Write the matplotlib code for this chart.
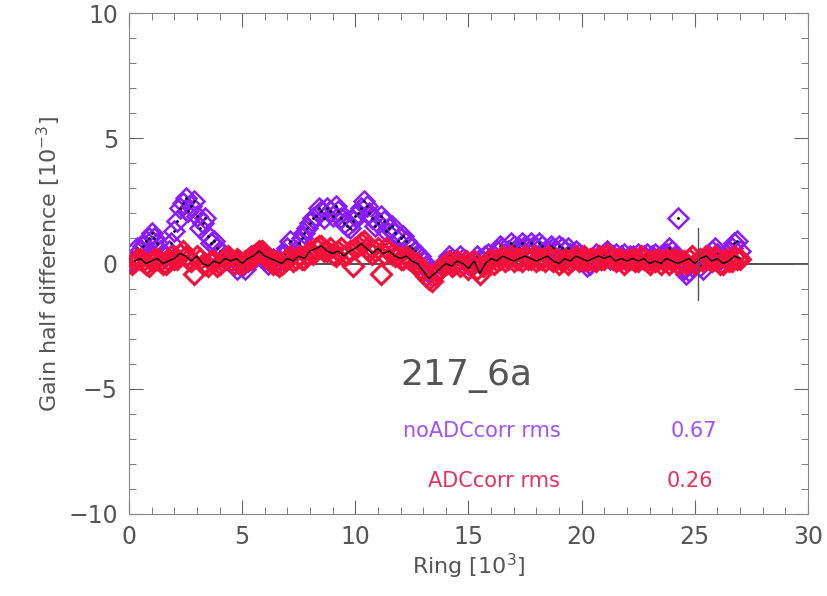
import numpy as np
import matplotlib as mpl
mpl.use('Agg')
import matplotlib.pyplot as plt
from matplotlib.ticker import MultipleLocator

# ring number in units of 10^3, two interleaved samplings (every 250 rings)
ring = np.arange(0.25, 27.01, 0.25)
ring_b = ring - 0.125

# gain half difference [1e-3] without ADC correction
no_adc = [0.3, 0.5, 0.9, 1.2, 0.8, 0.4, 0.5, 1.3, 2.2, 2.6,
          2.3, 1.9, 1.6, 1.1, 0.9, 0.5, 0.3, 0.1, -0.2, -0.1,
          0.1, 0.2, 0.4, 0.2, 0.1, 0.0, 0.3, 0.6, 0.4, 0.8,
          1.2, 1.6, 1.9, 2.1, 2.2, 1.9, 2.1, 1.6, 1.4, 1.9,
          2.2, 2.3, 1.8, 1.6, 1.7, 1.4, 1.2, 1.0, 0.9, 0.6,
          0.4, 0.1, -0.3, -0.4, -0.2, 0.1, 0.2, 0.1, 0.2, 0.0,
          0.1, 0.2, 0.3, 0.2, 0.5, 0.6, 0.5, 0.7, 0.6, 0.7,
          0.8, 0.6, 0.7, 0.5, 0.6, 0.7, 0.5, 0.4, 0.5, 0.3,
          -0.1, 0.2, 0.3, 0.4, 0.2, 0.4, 0.3, 0.2, 0.3, 0.4,
          0.3, 0.2, 0.4, 0.3, 0.4, 0.5, 1.8, -0.2, -0.3, 0.0,
          -0.1, 0.2, 0.5, 0.4, 0.3, 0.5, 0.8, 0.5]
no_adc_b = [0.1, 0.6, 0.7, 1.0, 1.0, 0.5, 0.3, 0.8, 1.7, 2.4,
            2.1, 2.5, 1.4, 1.8, 0.8, 0.6, 0.4, 0.2, 0.0, 0.0,
            -0.2, 0.3, 0.3, 0.5, 0.0, 0.2, 0.1, 0.4, 0.9, 0.5,
            1.0, 1.4, 1.8, 2.2, 1.8, 2.1, 2.3, 1.8, 1.5, 1.7,
            2.0, 2.5, 2.0, 1.5, 1.9, 1.3, 1.5, 0.9, 1.1, 0.7,
            0.5, 0.3, -0.1, -0.5, -0.3, 0.0, 0.3, 0.0, 0.3, 0.1,
            -0.1, 0.3, 0.1, 0.4, 0.3, 0.7, 0.4, 0.8, 0.5, 0.8,
            0.6, 0.7, 0.8, 0.5, 0.7, 0.5, 0.6, 0.6, 0.3, 0.4,
            0.1, 0.0, 0.4, 0.2, 0.5, 0.3, 0.2, 0.4, 0.3, 0.2,
            0.3, 0.4, 0.3, 0.2, 0.4, 0.6, 0.3, 0.1, -0.4, -0.1,
            0.1, -0.2, 0.3, 0.6, 0.2, 0.4, 0.6, 0.9]

# with ADC correction
adc = [0.1, 0.2, 0.0, 0.1, 0.2, 0.0, 0.1, 0.2, 0.4, 0.3,
       0.1, 0.3, 0.0, -0.1, 0.1, 0.0, 0.2, 0.1, 0.2, 0.0,
       0.2, 0.3, 0.5, 0.3, 0.2, 0.1, 0.0, 0.2, 0.1, 0.3,
       0.2, 0.5, 0.6, 0.7, 0.5, 0.4, 0.5, 0.3, 0.5, 0.6,
       0.8, 0.6, 0.4, 0.6, 0.4, 0.5, 0.3, 0.2, 0.3, 0.1,
       0.0, -0.3, -0.6, -0.4, -0.2, 0.0, -0.1, 0.1, 0.0, -0.2,
       0.1, -0.4, 0.0, 0.2, 0.1, 0.3, 0.2, 0.1, 0.2, 0.3,
       0.2, 0.1, 0.2, 0.3, 0.1, 0.0, 0.2, 0.1, 0.3, 0.2,
       0.1, 0.2, 0.3, 0.2, 0.3, 0.1, 0.2, 0.1, 0.2, 0.1,
       0.2, 0.0, 0.1, 0.0, 0.2, 0.1, 0.0, 0.1, 0.2, 0.0,
       0.2, 0.3, 0.1, 0.2, 0.0, 0.1, 0.3, 0.2]
adc_b = [0.0, 0.2, 0.1, -0.1, 0.2, 0.1, 0.0, 0.3, 0.2, 0.5,
         0.2, -0.4, 0.2, 0.0, 0.1, -0.1, 0.1, 0.3, 0.0, 0.1,
         0.1, 0.2, 0.4, 0.5, 0.2, 0.0, -0.1, 0.1, 0.3, 0.2,
         0.2, 0.4, 0.4, 0.7, 0.5, 0.6, 0.3, 0.6, 0.4, -0.1,
         0.7, 0.9, 0.5, 0.5, -0.4, 0.6, 0.4, 0.3, 0.2, 0.2,
         0.0, -0.2, -0.5, -0.7, -0.3, -0.1, 0.1, 0.0, -0.1, 0.1,
         0.0, -0.2, -0.1, 0.1, 0.0, 0.2, 0.1, 0.3, 0.2, 0.1,
         0.2, 0.3, 0.2, 0.1, 0.2, 0.2, 0.1, 0.0, 0.2, 0.1,
         0.3, 0.2, 0.1, 0.2, 0.4, 0.2, 0.2, 0.0, 0.2, 0.1,
         0.3, 0.1, 0.1, 0.2, 0.1, 0.0, 0.2, 0.1, 0.0, 0.3,
         0.1, 0.1, 0.2, 0.3, 0.0, 0.2, 0.1, 0.2]

rms_no_adc = 0.67
rms_adc = 0.26
detector = "217_6a"

purple = '#8a1cff'
red = '#f5103c'
grey = '#666666'

fig = plt.figure(figsize=(8.27, 5.96), dpi=100)
ax = fig.add_axes([0.156, 0.1376, 0.821, 0.8405])

ax.axhline(0, color='#333333', lw=1.2, zorder=1)
for xs, ys in [(ring, no_adc), (ring_b, no_adc_b)]:
    ax.plot(xs, ys, 'D', ms=10.5, mfc='none', mec=purple, mew=1.8, zorder=2)
    ax.plot(xs, ys, '.', ms=2, color='k', zorder=3)
for xs, ys in [(ring, adc), (ring_b, adc_b)]:
    ax.plot(xs, ys, 'D', ms=10.5, mfc='none', mec=red, mew=2.2, zorder=4)
ax.plot(ring, adc, '-', lw=1.0, color='k', zorder=5)
ax.plot([25.15, 25.15], [-1.45, 1.4], color='#555555', lw=1.0, zorder=6)

ax.set_xlim(0, 30)
ax.set_ylim(-10, 10)
ax.xaxis.set_major_locator(MultipleLocator(5))
ax.xaxis.set_minor_locator(MultipleLocator(1))
ax.yaxis.set_major_locator(MultipleLocator(5))
ax.yaxis.set_minor_locator(MultipleLocator(1))
ax.tick_params(which='both', direction='in', top=True, right=True,
               color=grey, labelcolor='#555555', labelsize=17, pad=8)
ax.tick_params(which='major', length=10)
ax.tick_params(which='minor', length=5)
for s in ax.spines.values():
    s.set_color('#888888')

ax.set_xlabel(r"Ring [10$^3$]", fontsize=16, color='#555555', labelpad=2)
ax.set_ylabel(r"Gain half difference [10$^{-3}$]", fontsize=16,
              color='#555555', labelpad=4)

ax.text(12.0, -4.5, detector, fontsize=26, color='#555555', va='center')
ax.text(12.1, -6.7, "noADCcorr rms", fontsize=15, color='#a050ff', va='center')
ax.text(26.0, -6.7, "%.2f" % rms_no_adc, fontsize=15, color='#a050ff',
        va='center', ha='right')
ax.text(13.2, -8.7, "ADCcorr rms", fontsize=15, color='#e83060', va='center')
ax.text(25.8, -8.7, "%.2f" % rms_adc, fontsize=15, color='#e83060',
        va='center', ha='right')

plt.savefig("out.png", dpi=100)
plt.close(fig)
